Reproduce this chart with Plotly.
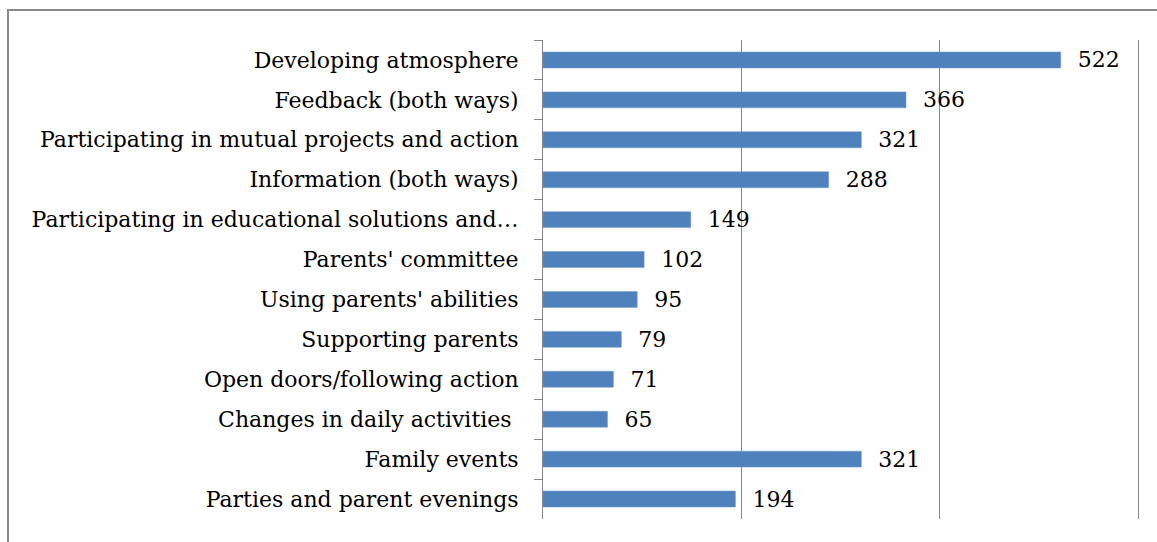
import plotly.graph_objects as go

categories = [
    "Developing atmosphere",
    "Feedback (both ways)",
    "Participating in mutual projects and action",
    "Information (both ways)",
    "Participating in educational solutions and…",
    "Parents' committee",
    "Using parents' abilities",
    "Supporting parents",
    "Open doors/following action",
    "Changes in daily activities ",
    "Family events",
    "Parties and parent evenings",
]
values = [522, 366, 321, 288, 149, 102, 95, 79, 71, 65, 321, 194]

W, H = 1157, 542
ml, mt, mb = 543, 40, 23
pw = round(595 * 610 / 600)
mr = W - ml - pw
ph = H - mt - mb
FONT = "DejaVu Serif"

fig = go.Figure(go.Bar(
    x=values, y=categories, orientation="h",
    marker=dict(color="#4F81BD", line=dict(color="#6E98CB", width=0.5)),
    text=values, texttemplate="  %{text}", textposition="outside",
    constraintext="none",
    textfont=dict(family=FONT, size=22, color="#000000"),
    cliponaxis=False,
))

fig.update_layout(
    width=W, height=H,
    margin=dict(l=ml, r=mr, t=mt, b=mb),
    paper_bgcolor="white", plot_bgcolor="white",
    bargap=0.6, showlegend=False,
    font=dict(family=FONT, size=22, color="#000000"),
    xaxis=dict(range=[0, 610], showticklabels=False, showgrid=True,
               gridcolor="#868686", gridwidth=1, dtick=200, tick0=0,
               zeroline=False, showline=False, ticks=""),
    yaxis=dict(autorange="reversed", type="category", showline=True,
               linecolor="#868686", linewidth=1, ticks="outside",
               tickson="boundaries", ticklen=8, tickcolor="#868686",
               ticklabelstandoff=19, showgrid=False),
    shapes=[dict(type="rect", xref="paper", yref="paper",
                 x0=(8 - ml) / pw, x1=(W + 20 - ml) / pw,
                 y0=-(H + 20 - mt - ph) / ph, y1=1 + (mt - 10) / ph,
                 line=dict(color="#898989", width=2), layer="below")],
)

fig.write_html("out.html")
